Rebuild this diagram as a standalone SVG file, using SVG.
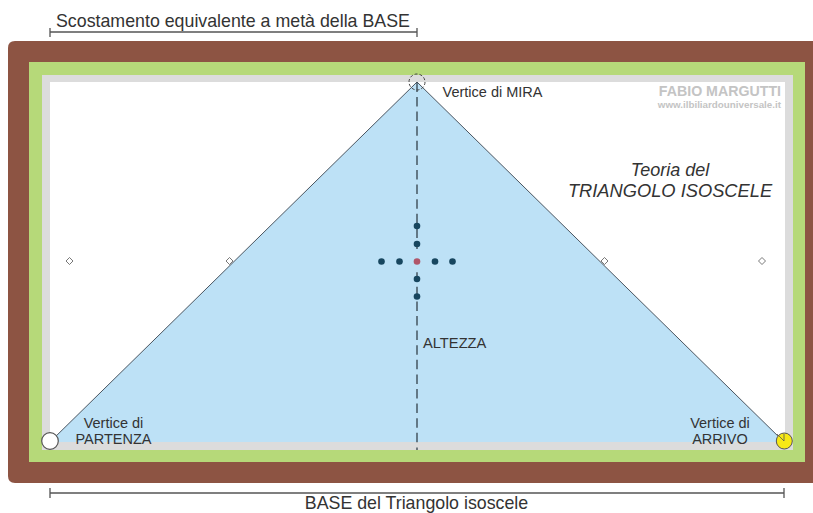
<svg xmlns="http://www.w3.org/2000/svg" width="813" height="513" viewBox="0 0 813 513">
<style>
text{font-family:"Liberation Sans",Arial,sans-serif;fill:#333}
.lbl{font-size:14.500px;text-anchor:middle}
.dim{font-size:17.800px}
.dimline{stroke:#555;stroke-width:1.300;fill:none}
.dot{fill:#17465f}
.dia{fill:#fff;stroke:#555;stroke-width:.8}
.axis{stroke:#33404a;stroke-width:1.300;stroke-dasharray:9.500 5.100}
</style>
<rect width="813" height="513" fill="#fff"/>
<g id="table">
<path d="M15 41H813V483H15Q8 483 8 476V48Q8 41 15 41Z" fill="#8d5443"/>
<rect x="29" y="62" width="776" height="400" fill="#b6d979"/>
<rect x="42" y="75" width="751" height="375" fill="#dcdcdc"/>
<rect x="50" y="82" width="735" height="360" fill="#fff"/>
</g>
<g id="triangle">
<polygon points="417,82 50,442 784,442" fill="#bde1f6" stroke="none"/>
<path d="M50 442L417 82L784 442" fill="none" stroke="#4a5560" stroke-width="1"/>
</g>
<g id="connectors">
<line class="axis" x1="417" y1="82.400" x2="417" y2="249"/>
<line class="axis" x1="417" y1="272.200" x2="417" y2="450"/>
<path class="dimline" d="M50 28V37M50 32H417M417 28V37"/>
<path class="dimline" d="M50 488V498M50 493H784M784 488V498"/>
</g>
<g id="node-mira">
<circle cx="417" cy="82" r="8" fill="none" stroke="#444" stroke-width="1" stroke-dasharray="3 2"/>
<text class="lbl" x="492.500" y="97">Vertice di MIRA</text>
</g>
<g id="node-partenza">
<circle cx="50" cy="441" r="8.300" fill="#fff" stroke="#555" stroke-width="1.200"/>
<text class="lbl" x="113.500" y="428">Vertice di</text>
<text class="lbl" x="113.500" y="444">PARTENZA</text>
</g>
<g id="node-arrivo">
<circle cx="784.300" cy="441" r="8" fill="#f7e815" stroke="#555" stroke-width="1"/>
<path d="M784 441L777 434M784 441V434" stroke="#555" stroke-width=".8" fill="none"/>
<text class="lbl" x="720" y="428">Vertice di</text>
<text class="lbl" x="720" y="444">ARRIVO</text>
</g>
<g id="diamonds">
<polygon class="dia" points="69.500,257.500 73,261 69.500,264.500 66,261"/>
<polygon class="dia" points="229.500,257.500 233,261 229.500,264.500 226,261"/>
<polygon class="dia" points="604.500,257.500 608,261 604.500,264.500 601,261"/>
<polygon class="dia" points="762,257.500 765.500,261 762,264.500 758.500,261"/>
</g>
<g id="spots">
<circle class="dot" cx="417" cy="226" r="3.300"/>
<circle class="dot" cx="417" cy="244" r="3.300"/>
<circle class="dot" cx="417" cy="279" r="3.300"/>
<circle class="dot" cx="417" cy="296.500" r="3.300"/>
<circle class="dot" cx="381.500" cy="261.500" r="3.300"/>
<circle class="dot" cx="399.500" cy="261.500" r="3.300"/>
<circle class="dot" cx="435" cy="261.500" r="3.300"/>
<circle class="dot" cx="452.500" cy="261.500" r="3.300"/>
<circle cx="417" cy="261.500" r="3.300" fill="#b0566a"/>
</g>
<g id="labels">
<text class="dim" x="56" y="27">Scostamento equivalente a metà della BASE</text>
<text class="dim" x="416.500" y="509" text-anchor="middle">BASE del Triangolo isoscele</text>
<text x="423" y="348" font-size="14.700">ALTEZZA</text>
<text x="670" y="176" font-size="18" font-style="italic" text-anchor="middle">Teoria del</text>
<text x="670" y="197" font-size="18.300" font-style="italic" text-anchor="middle">TRIANGOLO ISOSCELE</text>
<text x="781" y="96" font-size="14.200" font-weight="bold" text-anchor="end" style="fill:#c4c4c4">FABIO MARGUTTI</text>
<text x="781" y="108" font-size="9.800" font-weight="bold" text-anchor="end" style="fill:#c4c4c4">www.ilbiliardouniversale.it</text>
</g>
</svg>
